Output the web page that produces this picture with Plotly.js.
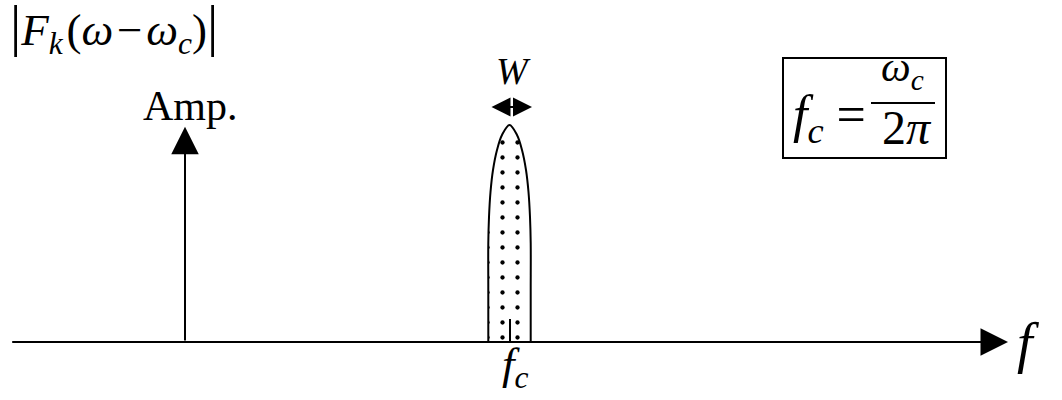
<!DOCTYPE html>
<html>
<head>
<meta charset="utf-8">
<script src="https://cdn.plot.ly/plotly-3.0.1.min.js"></script>
<style>
  html, body { margin: 0; padding: 0; background: #fff; }
  #chart { width: 1062px; height: 400px; }
</style>
</head>
<body>
<div id="chart"></div>
<script>
// Narrow-band spectrum |F_k(ω − ω_c)| centred on the carrier f_c.
// Frequency runs left to right, amplitude upward from the f axis.

// outline of the band-limited lobe (frequency, amplitude)
const lobeFreq = [488.3, 488.3, 488.3, 489, 490.5, 493, 497, 502, 509.5, 517, 522, 526, 528.5, 530, 530.7, 530.7, 530.7];
const lobeAmp  = [0, 50, 99, 125, 150, 172, 192, 207, 217, 207, 192, 172, 150, 125, 99, 50, 0];

// carrier frequency and its short centre mark
const carrierFreq = 510;
const carrierMark = 23;

// frequency axis and amplitude reference arrow
const axisFrom = 10.7;
const axisTo = 1008;
const ampFreq = 185;
const ampTop = 215.3;

// bandwidth marker W above the lobe
const bandLeft = 490;
const bandRight = 532;
const bandLevel = 235;

// labels
const bar = '<span style="font-size:56px">|</span>';
const hair = '\u200A';
const labelTitle = bar + '<i>F</i><sub><i>k</i></sub>' + hair + '(<i>ω</i>' + hair + '−' + hair + '<i>ω</i><sub><i>c</i></sub>)' + bar;
const labelAmp = 'Amp.';
const labelW = '<i>W</i>';
const labelFc = '<i>f</i><sub><i>c</i></sub>';
const labelF = '<i>f</i>';
const labelEqLeft = '<i>f</i><sub><i>c</i></sub> =';
const labelNum = '<i>ω</i><sub><i>c</i></sub>';
const labelDen = '2<i>π</i>';

const serif = 'Liberation Serif, Times New Roman, serif';
const ink = '#000000';

const lobe = {
  x: lobeFreq,
  y: lobeAmp,
  mode: 'lines',
  line: { color: ink, width: 2, shape: 'spline', smoothing: 1 },
  fill: 'toself',
  fillcolor: '#ffffff',
  fillpattern: { shape: '.', size: 15, solidity: 0.065, fgcolor: ink, bgcolor: '#ffffff', fillmode: 'replace' },
  hoverinfo: 'skip'
};

function arrow(x, y, ax, ay, opts) {
  return Object.assign({
    x: x, y: y, ax: ax, ay: ay,
    xref: 'x', yref: 'y', axref: 'x', ayref: 'y',
    text: '', showarrow: true,
    arrowhead: 2, arrowsize: 2.75, arrowwidth: 2, arrowcolor: ink,
    standoff: 0, startstandoff: 0
  }, opts || {});
}

function label(text, x, y, size, extra) {
  return Object.assign({
    x: x, y: y, xref: 'x', yref: 'y',
    text: text, showarrow: false,
    xanchor: 'center', yanchor: 'middle',
    font: { family: serif, size: size, color: ink }
  }, extra || {});
}

const annotations = [
  arrow(axisTo, 0, axisFrom, 0),
  arrow(ampFreq, ampTop, ampFreq, 0),
  arrow(bandRight, bandLevel, bandLeft, bandLevel, {
    arrowside: 'end+start', arrowhead: 2, startarrowhead: 2,
    arrowwidth: 2, arrowsize: 1.9, startarrowsize: 1.9
  }),
  label(labelTitle, 8, 314, 45, { xanchor: 'left' }),
  label(labelAmp, 190, 236, 42),
  label(labelW, 513, 271, 38),
  label(labelFc, 515, -25, 45),
  label(labelF, 1028, -1, 56),
  label(labelEqLeft, 829, 224, 52),
  label(labelNum, 902, 272, 42),
  label(labelDen, 907, 215, 48)
];

const shapes = [
  { type: 'line', xref: 'x', yref: 'y', x0: carrierFreq, x1: carrierFreq, y0: 0, y1: carrierMark,
    line: { color: ink, width: 2 } },
  { type: 'rect', xref: 'x', yref: 'y', x0: 783, x1: 946, y0: 184, y1: 284,
    line: { color: ink, width: 2 }, fillcolor: 'rgba(0,0,0,0)' },
  { type: 'line', xref: 'x', yref: 'y', x0: 871, x1: 935, y0: 239, y1: 239,
    line: { color: ink, width: 2 } }
];

const layout = {
  width: 1062,
  height: 400,
  margin: { l: 0, r: 0, t: 0, b: 0, pad: 0 },
  paper_bgcolor: '#ffffff',
  plot_bgcolor: '#ffffff',
  showlegend: false,
  xaxis: { range: [0, 1062], visible: false, fixedrange: true },
  yaxis: { range: [-58, 342], visible: false, fixedrange: true },
  annotations: annotations,
  shapes: shapes
};

Plotly.newPlot('chart', [lobe], layout, { staticPlot: true, displayModeBar: false });
</script>
</body>
</html>
